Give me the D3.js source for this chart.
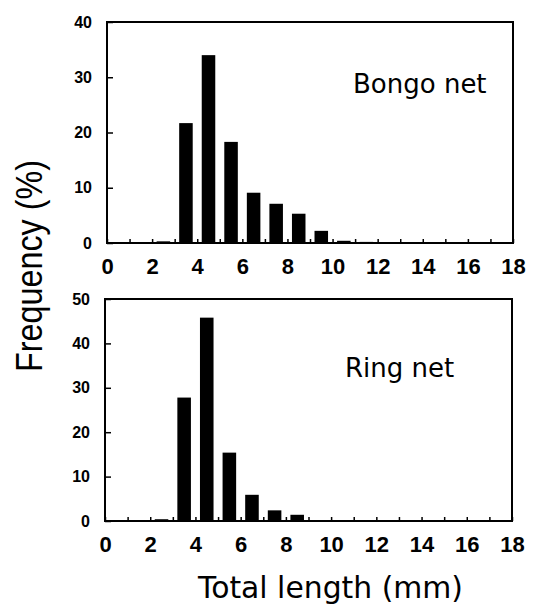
<!DOCTYPE html>
<html>
<head>
<meta charset="utf-8">
<script src="https://cdn.jsdelivr.net/npm/d3@7"></script>
<style>
  body { margin: 0; background: #fff; }
  svg { display: block; }
</style>
</head>
<body>
<div id="vis"></div>
<script>
var width = 533, height = 604

// bin centres (mm), one bar per 1 mm class
var bins = [0.5, 1.5, 2.5, 3.5, 4.5, 5.5, 6.5, 7.5, 8.5, 9.5, 10.5, 11.5, 12.5, 13.5, 14.5, 15.5, 16.5, 17.5]
// frequency (%) per bin
var bongo = [0, 0.1, 0.3, 21.7, 34.0, 18.3, 9.1, 7.1, 5.3, 2.2, 0.4, 0.2, 0.1, 0, 0, 0, 0, 0]
var ring  = [0, 0, 0.4, 27.8, 45.8, 15.4, 5.9, 2.4, 1.4, 0.2, 0.1, 0, 0, 0, 0, 0, 0, 0]
var xTicks = d3.range(0, 19)
var xLabels = [0, 2, 4, 6, 8, 10, 12, 14, 16, 18]
var bongoTicks = [0, 10, 20, 30, 40]
var ringTicks = [0, 10, 20, 30, 40, 50]

var svg = d3.select('#vis').append('svg')
    .attr('width', width)
    .attr('height', height)

var panel = (opts) => {
  var x = d3.scaleLinear().domain([0, 18]).range([opts.left, opts.right])
  var y = d3.scaleLinear().domain([0, opts.max]).range([opts.bottom, opts.top])
  var g = svg.append('g')

  // bars
  g.selectAll('rect.bar')
    .data(opts.values.map((v, i) => ({ c: bins[i], v: v })))
    .enter().append('rect')
    .attr('class', 'bar')
    .attr('x', d => x(d.c - 0.3))
    .attr('width', d => x(d.c + 0.3) - x(d.c - 0.3))
    .attr('y', d => y(d.v))
    .attr('height', d => y(0) - y(d.v))
    .attr('fill', '#000')

  // x axis, ticks pointing inward
  var xa = g.append('g')
    .attr('transform', 'translate(0,' + opts.bottom + ')')
    .call(d3.axisBottom(x).tickValues(xTicks).tickSize(-4)
      .tickFormat(d => xLabels.indexOf(d) >= 0 ? d : ''))
  xa.select('.domain').remove()
  xa.selectAll('line').attr('stroke', '#000').attr('stroke-width', 1.5)
  xa.selectAll('text')
    .attr('y', 31).attr('dy', 0)
    .attr('fill', '#000')
    .attr('font-size', 22)
    .style('font-family', '"Liberation Sans Narrow", "Arial Narrow", sans-serif')
    .style('font-weight', 'bold')
    .style('font-size', '22px')

  // y axis
  var ya = g.append('g')
    .attr('transform', 'translate(' + opts.left + ',0)')
    .call(d3.axisLeft(y).tickValues(opts.ticks).tickSize(-6).tickPadding(15))
  ya.select('.domain').remove()
  ya.selectAll('line').attr('stroke', '#000').attr('stroke-width', 1.5)
  ya.selectAll('text')
    .attr('fill', '#000')
    .attr('font-size', 16)
    .style('font-family', '"Liberation Sans", Arial, sans-serif')
    .style('font-weight', 'bold')
    .style('font-size', '16px')

  // frame
  g.append('rect')
    .attr('x', opts.left).attr('y', opts.top)
    .attr('width', opts.right - opts.left)
    .attr('height', opts.bottom - opts.top)
    .attr('fill', 'none')
    .attr('stroke', '#000')
    .attr('stroke-width', 2)

  g.append('text')
    .attr('x', opts.labelX).attr('y', opts.labelY)
    .style('font-family', '"DejaVu Sans", sans-serif')
    .style('font-size', '26px')
    .text(opts.label)
}

panel({ values: bongo, max: 40, ticks: bongoTicks, left: 107, right: 513, top: 22, bottom: 243,
        label: 'Bongo net', labelX: 353, labelY: 93 })
panel({ values: ring, max: 50, ticks: ringTicks, left: 105, right: 512, top: 299, bottom: 521,
        label: 'Ring net', labelX: 345, labelY: 377 })

// axis titles
svg.append('text')
  .attr('transform', 'translate(42,266) rotate(-90)')
  .attr('text-anchor', 'middle')
  .attr('textLength', 212)
  .attr('lengthAdjust', 'spacingAndGlyphs')
  .style('font-family', '"Liberation Sans", Arial, sans-serif')
  .style('font-size', '37px')
  .text('Frequency (%)')

svg.append('text')
  .attr('x', 198).attr('y', 598)
  .attr('textLength', 265)
  .attr('lengthAdjust', 'spacingAndGlyphs')
  .style('font-family', '"DejaVu Sans", sans-serif')
  .style('font-size', '30px')
  .text('Total length (mm)')
</script>
</body>
</html>
